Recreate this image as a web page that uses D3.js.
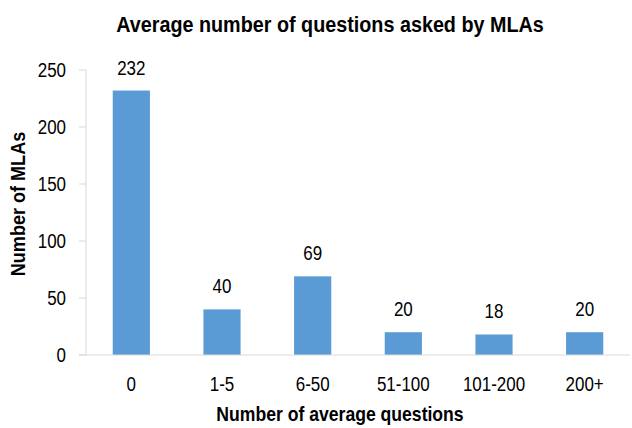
<!DOCTYPE html>
<html>
<head>
<meta charset="utf-8">
<script src="https://cdn.jsdelivr.net/npm/d3@7"></script>
<style>
  body { margin: 0; background: #fff; }
  text { font-family: "Liberation Sans", Arial, sans-serif; fill: #000; }
</style>
</head>
<body>
<div id="chart"></div>
<script>
// Average number of questions asked by MLAs
const categories = ['0', '1-5', '6-50', '51-100', '101-200', '200+'];
const values = [232, 40, 69, 20, 18, 20];
const yTicks = [0, 50, 100, 150, 200, 250];

const W = 632, H = 428;
const plot = { left: 86, right: 630, top: 70, bottom: 355 };
const NARROW = 0.87; // squeeze Liberation Sans towards Arial Narrow

const svg = d3.select('#chart').append('svg')
  .attr('width', W)
  .attr('height', H);

const x = d3.scaleBand()
  .domain(categories)
  .range([plot.left, plot.right])
  .paddingInner(0.59)
  .paddingOuter(0.295);

const y = d3.scaleLinear()
  .domain([0, 250])
  .range([plot.bottom, plot.top]);

const at = (px, py, sx = NARROW) => `translate(${px},${py}) scale(${sx},1)`;

// title
svg.append('text')
  .attr('transform', at(330, 32, 0.92))
  .attr('text-anchor', 'middle')
  .attr('font-size', 21.5)
  .attr('font-weight', 'bold')
  .text('Average number of questions asked by MLAs');

// y axis line + ticks
svg.append('line')
  .attr('x1', plot.left).attr('x2', plot.left)
  .attr('y1', y(250)).attr('y2', y(0))
  .attr('stroke', '#d9d9d9').attr('stroke-width', 1);

svg.selectAll('.ytick')
  .data(yTicks)
  .join('line')
  .attr('class', 'ytick')
  .attr('x1', plot.left - 7).attr('x2', plot.left)
  .attr('y1', d => y(d)).attr('y2', d => y(d))
  .attr('stroke', '#d9d9d9');

svg.selectAll('.ylabel')
  .data(yTicks)
  .join('text')
  .attr('class', 'ylabel')
  .attr('transform', d => at(66, y(d)))
  .attr('dy', '0.35em')
  .attr('text-anchor', 'end')
  .attr('font-size', 19.5)
  .text(d => d);

// bars
svg.selectAll('.bar')
  .data(values)
  .join('rect')
  .attr('class', 'bar')
  .attr('x', (d, i) => x(categories[i]))
  .attr('y', d => y(d))
  .attr('width', x.bandwidth())
  .attr('height', d => y(0) - y(d))
  .attr('fill', '#5b9bd5');

// value labels
svg.selectAll('.vlabel')
  .data(values)
  .join('text')
  .attr('class', 'vlabel')
  .attr('transform', (d, i) => at(x(categories[i]) + x.bandwidth() / 2, y(d) - 16))
  .attr('text-anchor', 'middle')
  .attr('font-size', 19.5)
  .text(d => d);

// x axis line
svg.append('line')
  .attr('x1', plot.left - 7).attr('x2', plot.right)
  .attr('y1', y(0)).attr('y2', y(0))
  .attr('stroke', '#d9d9d9').attr('stroke-width', 1);

svg.selectAll('.xlabel')
  .data(categories)
  .join('text')
  .attr('class', 'xlabel')
  .attr('transform', d => at(x(d) + x.bandwidth() / 2, 391))
  .attr('text-anchor', 'middle')
  .attr('font-size', 19.5)
  .text(d => d);

// axis titles
svg.append('text')
  .attr('transform', at(340, 421, 0.88))
  .attr('text-anchor', 'middle')
  .attr('font-size', 20)
  .attr('font-weight', 'bold')
  .text('Number of average questions');

svg.append('text')
  .attr('transform', `translate(25, 204) rotate(-90) scale(0.86,1)`)
  .attr('text-anchor', 'middle')
  .attr('font-size', 21)
  .attr('font-weight', 'bold')
  .text('Number of MLAs');
</script>
</body>
</html>
